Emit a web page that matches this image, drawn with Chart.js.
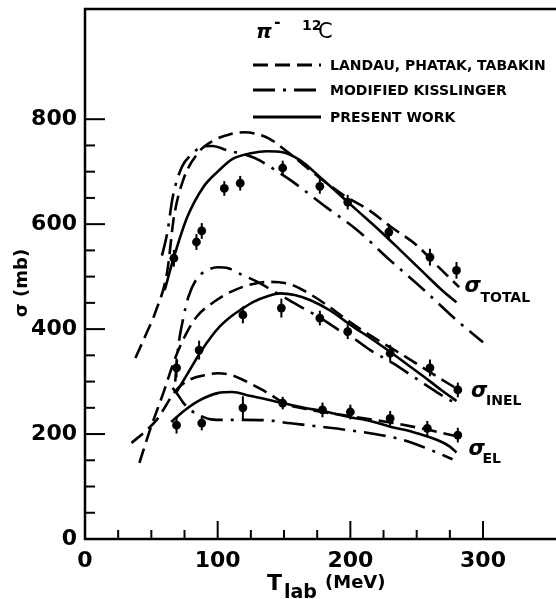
<!doctype html>
<html lang="en">
<head>
<meta charset="UTF-8">
<title>pi- 12C cross sections</title>
<script src="https://cdn.jsdelivr.net/npm/chart.js"></script>
<style>
  html, body { margin: 0; padding: 0; background: #fff; }
  #wrap { width: 556px; height: 599px; position: relative; }
</style>
</head>
<body>
<div id="wrap"><canvas id="grafico"></canvas></div>
<script>
// axis ticks (T_lab in MeV, sigma in mb)
const xTickLabels = [0, 100, 200, 300];
const yTickLabels = [0, 200, 400, 600, 800];
const xMinorTicks = [25, 50, 75, 125, 150, 175, 225, 250, 275];
const yMinorTicks = [50, 100, 150, 250, 300, 350, 450, 500, 550, 650, 700, 750];

// measured cross sections with errors
const totalT     = [67, 84, 88, 105, 117, 149, 177, 198, 229, 260, 280];
const totalSigma = [535, 566, 587, 668, 678, 707, 672, 642, 585, 537, 512];
const totalErr   = [16, 15, 15, 14, 14, 14, 14, 14, 15, 16, 16];
const inelT      = [69, 86, 119, 148, 177, 198, 230, 260, 281];
const inelSigma  = [326, 360, 427, 440, 421, 395, 354, 326, 284];
const inelErr    = [18, 18, 16, 18, 14, 14, 16, 16, 14];
const elT        = [69, 88, 119, 149, 179, 200, 230, 258, 281];
const elSigma    = [217, 221, 250, 259, 246, 242, 230, 211, 198];
const elErr      = [16, 14, 22, 12, 14, 14, 14, 14, 14];

// Landau, Phatak, Tabakin
const lptTotalT = [38, 46, 53, 62, 67, 74, 85, 96, 110, 120, 138, 153, 176, 195, 214, 231, 250, 265, 282];
const lptTotal  = [345, 390, 432, 510, 613, 684, 735, 758, 772, 775, 764, 737, 690, 655, 627, 594, 560, 522, 480];
const lptInelT  = [41, 49, 59, 68, 76, 84, 99, 109, 125, 140, 155, 170, 185, 200, 215, 230, 245, 260, 283];
const lptInel   = [145, 208, 278, 345, 390, 423, 455, 470, 485, 490, 485, 466, 441, 413, 388, 365, 342, 318, 282];
const lptElT    = [35, 45, 54, 60, 66, 72, 80, 90, 100, 111, 120, 133, 143, 150, 170, 200, 230, 255, 280];
const lptEl     = [183, 204, 227, 250, 275, 292, 305, 312, 316, 312, 302, 285, 270, 259, 246, 234, 222, 210, 196];

// modified Kisslinger
const mkTotalT = [58, 62, 66, 73, 80, 88, 96, 107, 128, 147, 157, 182, 205, 230, 254, 280, 300];
const mkTotal  = [540, 583, 650, 709, 732, 747, 749, 741, 726, 697, 680, 632, 589, 531, 478, 417, 375];
const mkInelT  = [68, 70, 74, 78, 84, 92, 100, 108, 117, 130, 145, 160, 170, 180, 194, 202, 215, 232, 250, 265, 280];
const mkInel   = [300, 360, 420, 462, 495, 512, 518, 516, 505, 490, 468, 446, 432, 417, 394, 383, 360, 335, 305, 280, 257];
const mkElT    = [66, 70, 74, 80, 87, 95, 105, 120, 139, 150, 167, 181, 197, 216, 235, 250, 265, 277];
const mkEl     = [288, 275, 260, 245, 235, 228, 227, 227, 226, 222, 217, 213, 208, 201, 192, 180, 165, 152];

// present work
const pwTotalT = [60, 67, 77, 89, 100, 111, 125, 137, 149, 162, 177, 192, 207, 222, 237, 255, 270, 280];
const pwTotal  = [474, 537, 613, 670, 700, 724, 735, 739, 737, 722, 690, 656, 622, 588, 552, 508, 472, 451];
const pwInelT  = [69, 78, 87, 95, 102, 110, 118, 127, 137, 147, 158, 170, 185, 200, 215, 227, 240, 255, 268, 280];
const pwInel   = [280, 318, 356, 385, 406, 424, 438, 452, 462, 468, 465, 455, 435, 408, 383, 362, 338, 310, 285, 263];
const pwElT    = [65, 75, 87, 100, 111, 124, 139, 149, 165, 179, 200, 215, 230, 247, 265, 275, 280];
const pwEl     = [223, 245, 265, 278, 280, 273, 265, 259, 250, 244, 232, 225, 214, 204, 189, 176, 165];

const legendLabels = ['LANDAU, PHATAK, TABAKIN', 'MODIFIED KISSLINGER', 'PRESENT WORK'];

const dashLPT = [15, 7];
const dashMK = [22, 8, 3, 8];
const FONT = 'DejaVu Sans';

const pts = (xs, ys) => xs.map((x, i) => ({ x: x, y: ys[i] }));

const curve = (xs, ys, dash) => ({
    data: pts(xs, ys),
    showLine: true,
    borderColor: '#000',
    borderWidth: 2.6,
    borderDash: dash,
    borderCapStyle: 'butt',
    pointRadius: 0,
    cubicInterpolationMode: 'monotone',
    fill: false
});

const measured = (xs, ys, errs) => ({
    data: pts(xs, ys),
    errs: errs,
    showLine: false,
    pointRadius: 4.4,
    pointStyle: 'circle',
    backgroundColor: '#000',
    borderWidth: 0
});

const text = (ctx, str, x, y, font, align) => {
    ctx.font = font;
    ctx.textAlign = align || 'left';
    ctx.fillText(str, x, y);
};

const decor = {
    id: 'decor',
    afterDatasetsDraw(chart) {
        const ctx = chart.ctx;
        const a = chart.chartArea;
        const sx = chart.scales.x, sy = chart.scales.y;
        ctx.save();
        ctx.strokeStyle = '#000';
        ctx.fillStyle = '#000';
        ctx.lineCap = 'butt';

        // error bars
        ctx.lineWidth = 2;
        chart.data.datasets.forEach((ds, di) => {
            if (!ds.errs) return;
            const meta = chart.getDatasetMeta(di);
            ds.data.forEach((p, i) => {
                const px = meta.data[i].x;
                ctx.beginPath();
                ctx.moveTo(px, sy.getPixelForValue(p.y - ds.errs[i]));
                ctx.lineTo(px, sy.getPixelForValue(p.y + ds.errs[i]));
                ctx.stroke();
            });
        });

        // frame, open on the right
        ctx.lineWidth = 2.5;
        ctx.beginPath();
        ctx.moveTo(chart.width, a.top);
        ctx.lineTo(a.left, a.top);
        ctx.lineTo(a.left, a.bottom);
        ctx.lineTo(chart.width, a.bottom);
        ctx.stroke();

        // inward tick marks
        ctx.lineWidth = 2;
        const tickX = (v, len) => {
            const px = sx.getPixelForValue(v);
            ctx.beginPath(); ctx.moveTo(px, a.bottom); ctx.lineTo(px, a.bottom - len); ctx.stroke();
        };
        const tickY = (v, len) => {
            const py = sy.getPixelForValue(v);
            ctx.beginPath(); ctx.moveTo(a.left, py); ctx.lineTo(a.left + len, py); ctx.stroke();
        };
        xTickLabels.slice(1).forEach(v => tickX(v, 18));
        xMinorTicks.forEach(v => tickX(v, 9));
        yTickLabels.slice(1).forEach(v => tickY(v, 20));
        yMinorTicks.forEach(v => tickY(v, 10));

        // reaction
        ctx.textBaseline = 'alphabetic';
        text(ctx, 'π', 256, 38, 'italic bold 20px ' + FONT);
        text(ctx, '-', 274, 27, 'bold 16px ' + FONT);
        text(ctx, '12', 302, 30, 'bold 14px ' + FONT);
        text(ctx, 'C', 318, 38, '21px ' + FONT);

        // legend
        const styles = [dashLPT, dashMK, []];
        const rows = [65, 90, 117];
        ctx.lineWidth = 3;
        rows.forEach((ry, i) => {
            ctx.setLineDash(styles[i]);
            ctx.beginPath(); ctx.moveTo(253, ry); ctx.lineTo(321, ry); ctx.stroke();
            ctx.setLineDash([]);
            ctx.textBaseline = 'middle';
            text(ctx, legendLabels[i], 330, ry + 1, 'bold 14px ' + FONT);
        });

        // curve labels
        ctx.textBaseline = 'alphabetic';
        const labelAt = (sub, t, s, dx, dy) => {
            const px = sx.getPixelForValue(t), py = sy.getPixelForValue(s);
            text(ctx, 'σ', px, py, 'italic bold 21px ' + FONT);
            text(ctx, sub, px + dx, py + dy, 'bold 14px ' + FONT);
        };
        labelAt('TOTAL', 286, 470, 16, 10);
        labelAt('INEL', 291, 270, 15, 8);
        labelAt('EL', 289, 160, 14, 8);

        // axis titles
        text(ctx, 'T', 267, 590, 'bold 22px ' + FONT);
        text(ctx, 'lab', 284, 598, 'bold 19px ' + FONT);
        text(ctx, '(MeV)', 325, 588, 'bold 18px ' + FONT);
        ctx.translate(27, 283);
        ctx.rotate(-Math.PI / 2);
        text(ctx, 'σ (mb)', 0, 0, 'bold 18px ' + FONT, 'center');
        ctx.restore();
    }
};

Chart.defaults.font.family = FONT;
Chart.defaults.color = '#000';

new Chart(document.getElementById('grafico'), {
    type: 'scatter',
    data: {
        datasets: [
            curve(lptTotalT, lptTotal, dashLPT),
            curve(lptInelT, lptInel, dashLPT),
            curve(lptElT, lptEl, dashLPT),
            curve(mkTotalT, mkTotal, dashMK),
            curve(mkInelT, mkInel, dashMK),
            curve(mkElT, mkEl, dashMK),
            curve(pwTotalT, pwTotal, []),
            curve(pwInelT, pwInel, []),
            curve(pwElT, pwEl, []),
            measured(totalT, totalSigma, totalErr),
            measured(inelT, inelSigma, inelErr),
            measured(elT, elSigma, elErr)
        ]
    },
    options: {
        responsive: true,
        maintainAspectRatio: false,
        animation: false,
        layout: { autoPadding: false, padding: { top: 9, right: 0, left: 0, bottom: 0 } },
        plugins: { legend: { display: false }, tooltip: { enabled: false } },
        scales: {
            x: {
                type: 'linear',
                min: 0,
                max: 355,
                afterBuildTicks: s => { s.ticks = xTickLabels.map(v => ({ value: v })); },
                afterFit: s => { s.height = 60; s.paddingLeft = 0; s.paddingRight = 0; },
                grid: { display: false, drawTicks: false },
                border: { display: false },
                ticks: { padding: 9, font: { size: 22, weight: 'bold' }, maxRotation: 0 }
            },
            y: {
                min: 0,
                max: 1010,
                afterBuildTicks: s => { s.ticks = yTickLabels.map(v => ({ value: v })); },
                afterFit: s => { s.width = 85; s.paddingTop = 0; s.paddingBottom = 0; },
                grid: { display: false, drawTicks: false },
                border: { display: false },
                ticks: { padding: 8, font: { size: 22, weight: 'bold' } }
            }
        }
    },
    plugins: [decor]
});
</script>
</body>
</html>
